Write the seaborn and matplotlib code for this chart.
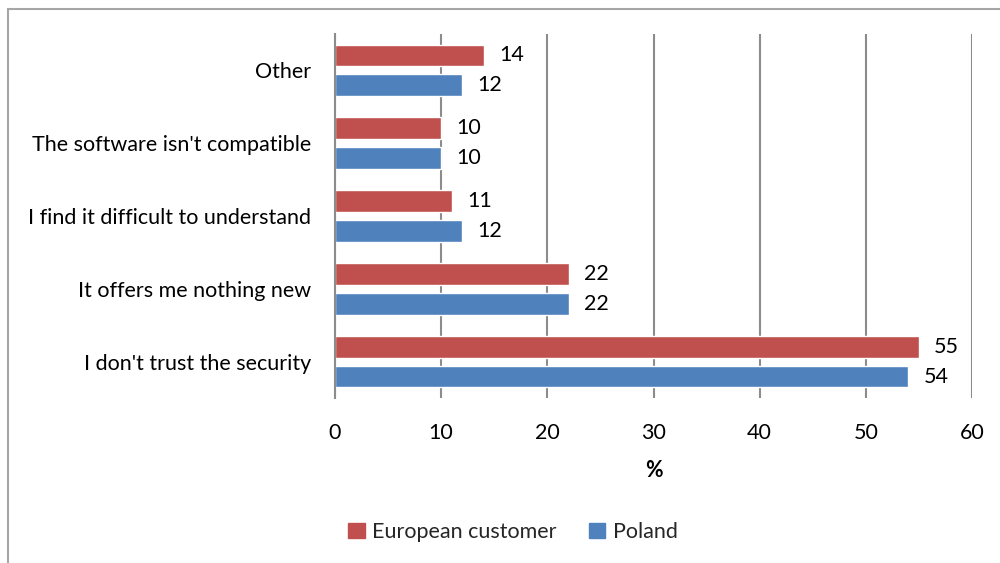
import matplotlib
matplotlib.use("Agg")
import matplotlib.pyplot as plt
import matplotlib.patches as mpatches
import seaborn as sns
import pandas as pd

categories = [
    "Other",
    "The software isn't compatible",
    "I find it difficult to understand",
    "It offers me nothing new",
    "I don't trust the security",
]
european_customer = [14, 10, 11, 22, 55]
poland = [12, 10, 12, 22, 54]
series_names = ["European customer", "Poland"]
x_ticks = [0, 10, 20, 30, 40, 50, 60]

colors = {"European customer": "#C0504D", "Poland": "#4F81BD"}
grid_color = "#8C8C8C"
font_size = 15.5

df = pd.DataFrame({
    "category": categories * 2,
    "value": european_customer + poland,
    "series": [series_names[0]] * len(categories) + [series_names[1]] * len(categories),
})

sns.set_theme(style="white")
plt.rcParams["font.family"] = ["Lato", "DejaVu Sans"]

fig = plt.figure(figsize=(10, 5.63), dpi=100)
ax = fig.add_axes([0.335, 0.293, 0.637, 0.6466])

sns.barplot(
    data=df, x="value", y="category", hue="series", order=categories,
    hue_order=series_names, palette=colors, orient="h",
    width=0.82, gap=0.27, saturation=1, ax=ax, legend=False, errorbar=None,
)

for container in ax.containers:
    ax.bar_label(container, fmt="%g", padding=11, fontsize=font_size, color="#000000")

ax.set_xlim(0, 60)
ax.set_ylim(len(categories) - 0.5, -0.5)
ax.set_xticks(x_ticks)
ax.xaxis.grid(True, color=grid_color, linewidth=1.5)
ax.set_axisbelow(True)

for side in ["top", "right", "bottom"]:
    ax.spines[side].set_visible(False)
ax.spines["left"].set_color(grid_color)
ax.spines["left"].set_linewidth(1.5)

ax.tick_params(axis="y", length=0, pad=17, labelsize=font_size, labelcolor="#000000")
ax.tick_params(axis="x", length=0, pad=18, labelsize=font_size, labelcolor="#000000")
ax.set_ylabel("")
ax.set_xlabel("%", fontsize=font_size, fontweight="bold", labelpad=12, color="#000000")

handles = [mpatches.Patch(color=colors[s], label=s) for s in series_names]
fig.legend(
    handles=handles, loc="center", bbox_to_anchor=(0.513, 0.055), ncol=2,
    frameon=False, fontsize=font_size, handlelength=0.75, handleheight=0.75,
    handletextpad=0.35, columnspacing=1.5,
)

# chart frame
frame = mpatches.Rectangle(
    (0.008, -0.05), 1.05, 1.034, transform=fig.transFigure,
    fill=False, edgecolor="#A6A6A6", linewidth=1.5, clip_on=False,
)
fig.patches.append(frame)

fig.savefig("out.png", dpi=100)
